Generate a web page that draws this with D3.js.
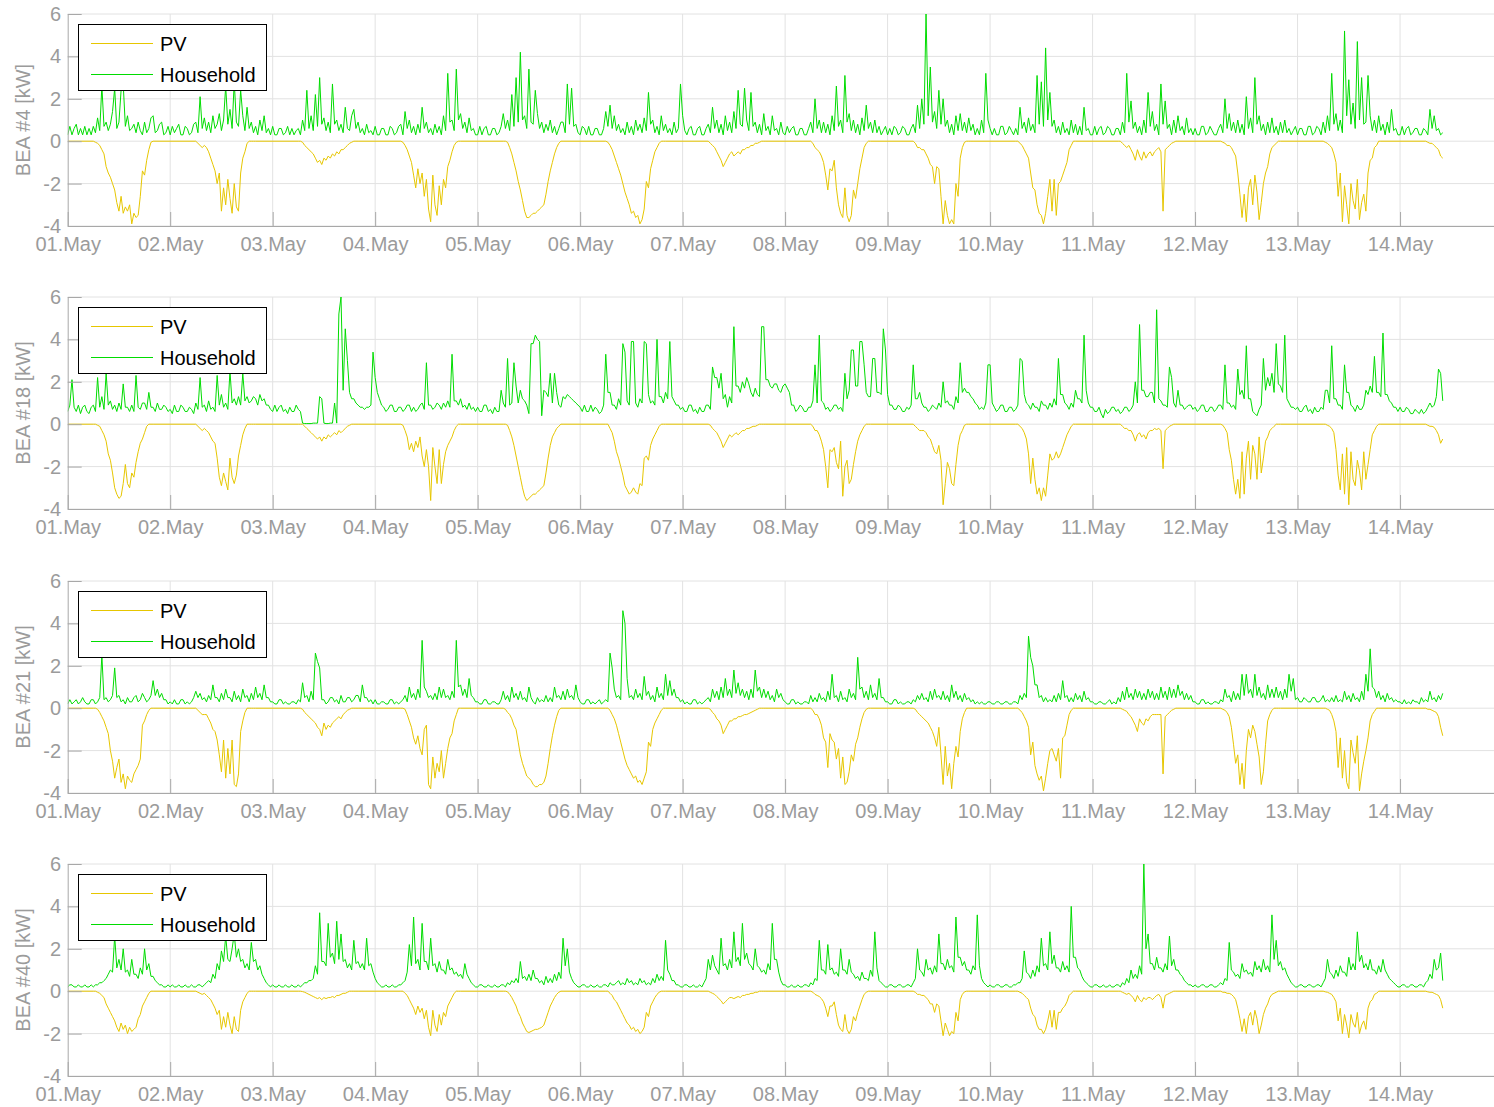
<!DOCTYPE html>
<html><head><meta charset="utf-8">
<script src="https://cdn.jsdelivr.net/npm/d3@7"></script>
<style>
body{margin:0;background:#fff}
svg text{font-family:"Liberation Sans",Arial,Helvetica,sans-serif}
</style>
</head><body>
<svg id="chart" width="1494" height="1107"></svg>
<script>
// ---------- tick labels / names ----------
const dayLabels = ["01.May","02.May","03.May","04.May","05.May","06.May","07.May","08.May","09.May","10.May","11.May","12.May","13.May","14.May"];
const yTicks = [-4,-2,0,2,4,6];
const panelLabels = ["BEA #4 [kW]","BEA #18 [kW]","BEA #21 [kW]","BEA #40 [kW]"];
const seriesNames = ["PV","Household"];
// Household: half-hourly from 01.May 00:00; PV: half-hourly 06:00-20:00 each day (night = 0)
const hhStepHours = 0.5;
const pvFirstHour = 6, pvStepHours = 0.5;

// ---------- BEA #4 ----------
const hh4 = [
0.3,0.7,0.3,0.6,0.8,0.3,0.6,0.3,0.7,0.3,0.6,0.3,0.7,0.4,1.1,0.5,2.6,0.7,0.9,0.5,0.8,1.4,2.5,0.6,0.9,2.4,2.7,0.7,1.2,0.5,0.6,0.8,0.4,0.9,0.5,0.3,0.9,0.4,0.6,1.1,1.2,0.4,0.5,0.8,0.9,0.3,0.4,0.7,
0.3,0.7,0.4,0.6,0.8,0.3,0.3,0.7,0.6,0.3,0.4,0.8,0.9,0.4,2.1,0.6,1.1,0.5,0.9,0.4,1.2,0.6,0.8,1.3,0.5,1.0,2.6,0.8,1.5,0.6,2.8,0.9,0.7,2.4,1.2,0.5,1.6,0.6,0.9,0.4,0.7,0.3,1.0,0.5,1.2,0.4,0.6,0.3,
0.7,0.3,0.3,0.6,0.6,0.3,0.4,0.7,0.3,0.6,0.3,0.5,0.6,0.3,1.0,0.5,2.4,0.6,1.2,0.5,2.2,0.7,3.0,0.8,1.1,0.5,0.9,0.4,2.7,0.8,1.0,0.5,0.8,0.4,1.6,0.6,0.5,1.2,1.5,0.6,0.9,0.4,0.6,0.3,0.8,0.4,0.5,0.3,
0.7,0.3,0.3,0.6,0.6,0.3,0.3,0.7,0.6,0.3,0.4,0.7,0.8,0.3,1.4,0.6,1.0,0.4,0.7,0.3,0.8,0.4,1.6,0.6,0.9,0.4,0.6,0.3,0.8,0.4,0.7,0.3,1.2,0.5,3.2,0.9,1.0,0.5,3.4,1.0,1.3,0.6,0.9,0.4,1.1,0.5,0.6,0.3,
0.3,0.7,0.3,0.6,0.7,0.3,0.3,0.6,0.6,0.3,0.4,0.7,1.3,0.6,1.0,0.5,2.2,0.7,3.0,0.9,4.2,1.0,1.2,0.6,3.4,0.9,0.8,2.4,1.3,0.6,0.9,0.4,0.8,0.5,1.0,0.4,0.7,0.3,0.6,0.9,0.9,0.4,2.7,0.8,2.5,0.7,0.8,0.4,
0.3,0.7,0.6,0.3,0.7,0.3,0.3,0.6,0.6,0.3,0.3,0.6,1.4,0.7,1.7,0.6,1.2,0.5,0.8,0.4,0.6,0.3,0.9,0.4,0.7,0.3,1.0,0.5,0.8,0.4,1.1,0.5,2.3,0.8,1.0,0.4,0.7,0.3,1.2,0.5,0.8,0.4,0.6,0.3,0.9,0.4,0.6,2.7,
1.2,0.5,0.3,0.6,0.7,0.3,0.3,0.6,0.7,0.3,0.3,0.6,0.8,0.4,1.6,0.6,1.0,0.4,0.8,0.3,1.2,0.5,0.9,0.4,1.4,0.6,2.4,0.8,0.7,2.5,1.0,0.5,2.3,0.7,0.9,0.4,0.8,0.3,1.3,0.5,0.7,0.3,1.2,0.5,0.6,0.3,0.9,0.4,
0.3,0.7,0.4,0.6,0.7,0.3,0.3,0.6,0.6,0.3,0.3,0.6,0.9,0.4,2.0,0.6,1.0,0.4,0.9,0.4,0.8,0.3,1.2,0.5,2.6,0.7,1.0,0.4,3.1,0.9,1.3,0.5,1.0,0.4,0.8,0.3,1.1,0.5,1.7,0.6,0.9,0.4,1.0,0.4,0.7,0.3,0.5,0.7,
0.3,0.6,0.3,0.7,0.6,0.3,0.4,0.7,0.6,0.3,0.3,0.6,0.8,0.4,1.7,0.6,2.0,0.8,6.0,1.2,3.5,0.9,1.4,0.6,2.4,0.8,2.0,0.7,1.0,0.4,0.8,0.3,1.2,0.5,1.3,0.5,0.9,0.4,1.1,0.5,0.8,0.3,0.6,0.3,1.0,0.4,3.2,1.0,
0.6,0.3,0.6,0.3,0.3,0.7,0.7,0.3,0.4,0.7,0.5,0.3,0.6,0.3,1.6,0.6,0.9,0.4,1.1,0.5,0.8,0.4,3.1,0.8,2.8,0.7,4.4,1.0,2.3,0.7,1.0,0.4,0.7,0.3,0.9,0.4,0.6,0.3,1.0,0.4,0.8,0.3,0.7,0.3,1.6,0.5,0.6,0.3,
0.3,0.7,0.3,0.6,0.7,0.3,0.4,0.7,0.6,0.3,0.3,0.6,0.6,0.3,0.9,0.4,3.2,0.9,1.9,0.6,0.9,0.4,0.7,0.3,1.0,0.4,2.3,0.7,1.4,0.5,0.8,0.3,2.7,0.8,1.9,0.6,0.8,0.3,1.0,0.4,1.2,0.5,0.7,0.3,1.1,0.4,0.6,0.3,
0.6,0.3,0.3,0.7,0.7,0.3,0.4,0.7,0.5,0.3,0.3,0.6,0.8,0.4,2.0,0.6,1.3,0.5,0.9,0.4,1.0,0.4,0.8,0.3,2.1,0.6,1.1,0.4,3.0,0.8,1.2,0.5,0.8,0.3,0.9,0.4,1.1,0.4,0.7,0.3,0.9,0.4,1.0,0.4,0.6,0.3,0.5,0.7,
0.3,0.6,0.6,0.3,0.3,0.7,0.7,0.3,0.4,0.7,0.6,0.3,0.9,0.4,1.2,0.5,3.2,0.8,1.3,0.5,1.0,0.4,5.2,1.2,2.9,0.8,1.8,0.6,4.7,1.0,3.0,0.8,0.9,3.1,1.2,0.5,1.0,0.4,1.2,0.5,0.8,0.3,0.9,0.4,1.5,0.5,0.6,0.3,
0.3,0.7,0.3,0.6,0.7,0.3,0.4,0.6,0.6,0.3,0.3,0.6,0.5,0.3,1.5,0.6,1.2,0.5,0.6,0.3,0.4];
const pv4 = [
[0,-0.05,-0.1,-0.2,-0.4,-0.6,-1.2,-1.5,-1.7,-2.0,-2.3,-2.9,-3.3,-2.6,-3.4,-3.1,-3.3,-3.0,-3.9,-3.4,-3.6,-3.5,-2.6,-1.4,-1.6,-0.9,-0.4,-0.05,0],
[0,-0.1,-0.2,-0.3,-0.2,-0.3,-0.5,-0.8,-1.1,-1.4,-2.0,-1.5,-3.3,-2.2,-3.0,-1.8,-2.7,-3.4,-2.0,-3.1,-3.3,-1.5,-0.8,-0.5,-0.1,0,0,0,0],
[0,0,-0.05,-0.2,-0.3,-0.4,-0.5,-0.6,-0.8,-1.0,-0.9,-1.1,-0.8,-0.9,-0.7,-0.8,-0.6,-0.7,-0.5,-0.6,-0.4,-0.4,-0.3,-0.2,-0.1,-0.05,0,0,0],
[0,-0.05,-0.2,-0.4,-0.7,-1.0,-1.6,-2.2,-1.3,-2.0,-1.5,-2.6,-1.8,-3.2,-3.8,-1.6,-3.0,-3.5,-2.1,-3.0,-1.8,-2.2,-1.2,-0.9,-0.5,-0.2,-0.05,0,0],
[0,0,-0.05,-0.3,-0.6,-1.0,-1.4,-1.9,-2.3,-2.8,-3.3,-3.6,-3.6,-3.5,-3.4,-3.4,-3.3,-3.2,-3.1,-3.0,-2.5,-1.9,-1.4,-1.0,-0.6,-0.3,-0.1,0,0],
[0,-0.05,-0.2,-0.4,-0.7,-1.0,-1.3,-1.6,-2.0,-2.4,-2.7,-3.0,-3.4,-3.3,-3.6,-3.5,-3.9,-3.7,-3.2,-1.9,-2.2,-1.3,-0.9,-0.5,-0.3,-0.1,0,0,0],
[0,-0.1,-0.2,-0.3,-0.5,-0.7,-0.9,-1.2,-1.0,-0.8,-0.6,-0.5,-0.7,-0.6,-0.5,-0.6,-0.4,-0.4,-0.3,-0.3,-0.2,-0.2,-0.1,-0.1,-0.05,0,0,0,0],
[0,-0.1,-0.3,-0.4,-0.5,-0.7,-1.0,-1.6,-2.3,-1.3,-1.4,-0.9,-2.2,-3.0,-3.4,-3.6,-2.2,-3.5,-3.8,-3.5,-2.3,-2.7,-2.0,-1.3,-0.8,-0.3,-0.1,0,0],
[0,-0.1,-0.3,-0.3,-0.4,-0.4,-0.6,-0.8,-1.1,-1.2,-2.0,-1.2,-1.3,-2.6,-3.9,-2.8,-3.5,-3.9,-3.7,-3.9,-2.0,-2.6,-0.8,-0.3,-0.05,0,0,0,0],
[0,0,-0.1,-0.2,-0.4,-0.6,-0.8,-1.5,-2.2,-2.3,-3.0,-3.4,-3.5,-3.9,-3.4,-2.6,-1.8,-3.3,-1.8,-3.5,-2.0,-1.9,-1.6,-1.3,-1.0,-0.4,-0.2,0,0],
[0,0,-0.1,-0.2,-0.3,-0.2,-0.4,-0.6,-0.9,-0.4,-0.7,-0.9,-0.5,-0.8,-0.6,-0.5,-0.7,-0.5,-0.4,-0.3,-0.5,-3.3,-0.4,-0.3,-0.2,-0.1,-0.05,0,0],
[0,-0.05,-0.1,-0.2,-0.2,-0.3,-0.5,-0.7,-1.5,-2.5,-3.6,-2.5,-3.8,-2.2,-1.8,-3.0,-1.6,-2.4,-3.7,-2.9,-2.0,-1.5,-1.2,-0.6,-0.3,-0.2,-0.1,0,0],
[0,-0.05,-0.1,-0.2,-0.3,-0.6,-1.0,-2.6,-1.5,-3.8,-2.1,-3.0,-3.9,-2.0,-2.8,-3.2,-1.8,-3.7,-2.9,-2.5,-3.3,-1.5,-0.9,-0.8,-0.3,-0.2,0,0,0],
[0,-0.05,-0.1,-0.1,-0.2,-0.3,-0.4,-0.7,-0.8]];

// ---------- BEA #18 ----------
const hh18 = [
0.6,0.9,2.1,0.8,0.6,0.9,0.5,0.8,0.9,0.6,0.5,0.8,0.9,0.6,2.2,0.8,1.3,0.7,2.4,0.9,1.1,0.7,0.9,0.6,1.0,0.7,1.9,0.8,0.8,0.6,0.9,0.6,2.3,0.8,0.7,1.0,1.0,0.7,1.5,0.8,0.8,0.6,1.0,0.7,0.7,0.9,0.8,0.6,
0.7,0.5,0.9,0.6,0.6,0.9,0.8,0.6,0.6,0.8,0.7,0.5,1.0,0.7,2.2,0.8,0.9,0.6,1.1,0.7,0.8,0.6,2.3,0.9,1.4,0.8,1.0,0.7,2.5,1.0,1.2,0.9,1.3,0.9,2.4,1.1,1.3,1.0,1.1,1.3,1.2,0.9,1.4,1.1,1.2,0.9,0.9,0.7,
0.6,0.9,0.6,0.8,0.9,0.6,0.7,0.5,0.8,0.6,0.6,0.9,0.7,0.6,0.05,0.03,0.03,0.03,0.03,0.05,0.05,0.05,1.3,1.2,0.05,0.03,0.03,0.05,0.05,1.0,0.05,5.2,6.0,1.6,4.5,3.0,1.5,1.2,1.2,1.0,0.9,0.8,0.8,0.7,0.8,0.8,0.9,3.4,
2.2,1.5,1.2,0.9,0.8,0.6,0.7,0.9,0.9,0.6,0.6,0.8,0.8,0.6,0.7,0.9,0.9,0.6,0.8,0.6,0.7,0.9,1.0,0.7,2.9,0.9,0.9,0.7,0.8,1.0,0.9,0.7,1.0,0.8,1.1,0.8,3.3,1.1,1.1,0.9,1.2,0.8,0.9,0.7,1.0,0.7,0.8,0.6,
0.8,0.6,0.6,0.9,0.9,0.6,0.7,0.5,0.8,0.6,0.6,1.6,1.0,0.8,3.1,0.9,1.0,2.9,1.8,1.0,1.6,1.2,1.1,0.9,0.5,3.8,3.8,4.2,4.0,3.9,0.4,1.6,1.5,1.3,2.4,1.0,2.4,1.5,0.9,0.8,1.3,1.2,1.4,1.3,1.2,1.1,1.0,0.9,
0.8,0.6,0.9,0.6,0.6,0.9,0.6,0.8,0.7,0.5,0.6,0.9,3.3,1.5,1.5,0.9,0.9,0.7,1.2,0.9,3.8,3.4,1.1,0.9,3.9,3.9,1.0,0.8,1.2,1.0,3.9,3.8,1.4,1.0,1.1,0.9,4.0,1.3,1.3,1.0,1.5,1.2,3.9,1.3,1.1,0.9,0.9,0.7,
0.8,0.6,0.6,0.9,0.9,0.6,0.7,0.5,0.8,0.6,0.6,0.9,0.9,0.7,2.7,2.2,2.2,1.7,2.4,1.2,1.4,0.8,1.3,1.0,4.6,1.8,1.8,1.5,2.0,1.7,2.2,1.9,1.5,1.3,1.7,1.4,1.3,4.6,4.6,2.1,2.1,1.8,1.7,1.9,1.9,1.6,1.5,1.8,
1.9,1.7,1.5,0.9,0.9,0.6,0.7,0.9,0.8,0.6,0.6,0.8,0.8,1.1,2.8,1.0,4.2,1.1,1.0,0.7,0.8,0.6,0.7,0.9,0.9,0.7,0.8,0.6,2.4,1.2,1.6,3.5,3.5,1.8,1.8,3.9,3.9,2.8,1.5,1.3,1.3,3.1,3.1,1.5,1.5,1.4,4.5,3.5,
1.4,0.9,0.9,0.7,0.7,0.9,0.8,0.6,0.6,0.8,0.7,0.9,2.8,1.2,1.2,1.5,1.0,0.8,0.8,0.6,0.7,0.9,0.8,0.7,1.0,0.8,2.0,1.0,1.1,0.9,0.9,0.7,1.3,1.0,2.9,1.5,1.7,1.5,1.5,1.3,1.2,1.0,0.9,0.7,0.8,0.7,1.0,2.8,
2.8,1.0,0.8,0.6,0.7,0.9,0.9,0.6,0.6,0.8,0.8,0.6,0.7,0.9,3.1,3.0,1.4,1.0,0.9,0.7,1.0,0.8,0.8,0.6,1.1,0.9,0.9,0.7,1.0,0.8,1.2,0.9,3.1,1.4,1.4,1.0,0.9,0.7,1.0,0.8,1.6,1.2,1.2,1.0,4.2,1.6,1.0,0.8,
0.8,0.6,0.6,0.8,0.5,0.3,0.7,0.5,0.6,0.8,0.8,0.6,0.7,0.5,0.6,0.8,0.8,0.6,0.7,0.9,2.0,1.0,4.7,1.6,1.6,1.3,1.3,1.5,1.5,1.0,5.4,1.2,1.1,0.9,0.9,0.8,2.7,2.2,1.0,0.8,1.6,0.9,0.9,0.7,0.8,0.9,0.9,0.7,
0.8,0.6,0.7,0.9,0.9,0.6,0.6,0.8,0.8,0.6,0.7,0.9,0.9,0.7,2.8,1.0,1.0,0.8,0.9,0.7,2.6,1.4,1.6,1.2,3.7,1.2,1.2,0.6,0.5,0.4,0.7,0.9,3.1,1.6,2.2,1.8,2.4,1.5,3.8,1.9,1.8,1.5,4.2,1.2,1.0,0.8,0.8,0.7,
0.8,0.6,0.6,0.8,0.9,0.6,0.7,0.5,0.8,0.6,0.6,0.8,0.7,1.6,1.6,1.0,3.7,1.2,1.2,0.9,0.9,0.7,2.8,1.5,1.5,0.9,0.8,0.6,0.9,0.7,0.7,0.9,1.6,1.4,1.8,1.5,3.2,1.5,1.5,1.3,4.3,1.4,1.4,1.1,1.0,0.8,0.8,0.6,
0.8,0.6,0.6,0.8,0.7,0.5,0.5,0.7,0.6,0.5,0.7,0.5,0.6,0.8,1.0,0.8,0.9,1.3,2.6,2.4,1.1];
const pv18 = [
[0,0,-0.05,-0.1,-0.3,-0.5,-0.8,-1.4,-1.7,-2.3,-3.0,-3.3,-3.5,-3.4,-2.8,-1.9,-2.8,-3.0,-2.3,-2.5,-1.8,-1.3,-0.9,-0.7,-0.4,-0.1,0,0,0],
[0,-0.1,-0.2,-0.3,-0.2,-0.3,-0.4,-0.6,-0.8,-0.9,-1.6,-2.5,-2.9,-2.3,-2.7,-3.1,-1.6,-2.5,-2.8,-2.4,-1.5,-1.0,-0.5,-0.2,0,0,0,0,0],
[0,0,0,-0.1,-0.2,-0.3,-0.4,-0.5,-0.6,-0.7,-0.6,-0.8,-0.6,-0.7,-0.5,-0.6,-0.5,-0.4,-0.5,-0.3,-0.4,-0.3,-0.2,-0.1,-0.05,0,0,0,0],
[0,-0.05,-0.3,-0.6,-1.2,-0.9,-1.3,-0.8,-1.1,-0.6,-1.5,-2.0,-1.2,-2.0,-3.6,-1.1,-2.0,-2.8,-1.2,-2.8,-1.9,-1.3,-1.0,-0.8,-0.6,-0.3,-0.1,0,0],
[0,0,-0.05,-0.3,-0.6,-1.0,-1.5,-2.0,-2.5,-3.0,-3.4,-3.6,-3.5,-3.4,-3.3,-3.3,-3.2,-3.1,-3.0,-2.9,-2.3,-1.6,-1.0,-0.6,-0.4,-0.2,-0.1,0,0],
[0,0,-0.2,-0.4,-0.8,-1.3,-1.6,-2.0,-2.4,-2.9,-3.1,-3.3,-3.2,-3.0,-3.2,-3.3,-2.8,-2.9,-1.6,-1.5,-1.7,-1.0,-0.7,-0.5,-0.3,-0.1,0,0,0],
[0,-0.05,-0.2,-0.3,-0.4,-0.6,-0.8,-1.1,-0.9,-0.7,-0.5,-0.6,-0.5,-0.4,-0.5,-0.4,-0.3,-0.3,-0.2,-0.2,-0.15,-0.1,-0.1,-0.05,0,0,0,0,0],
[0,-0.1,-0.3,-0.3,-0.5,-0.8,-1.2,-2.0,-3.0,-1.2,-1.3,-1.1,-1.8,-2.1,-0.8,-3.4,-2.0,-1.7,-2.8,-2.6,-1.9,-1.3,-0.8,-0.5,-0.3,-0.1,0,0,0],
[0,-0.1,-0.2,-0.3,-0.3,-0.3,-0.4,-0.6,-0.7,-1.0,-1.3,-1.4,-1.0,-1.7,-3.8,-2.8,-1.8,-2.1,-2.8,-2.9,-1.9,-1.0,-0.5,-0.3,-0.05,0,0,0,0],
[0,0,-0.1,-0.2,-0.4,-0.7,-1.4,-2.8,-1.6,-2.6,-3.3,-3.0,-3.6,-3.0,-3.4,-2.4,-1.4,-1.7,-1.6,-1.3,-1.6,-1.4,-1.1,-0.8,-0.5,-0.3,-0.1,0,0],
[0,0,-0.1,-0.2,-0.2,-0.3,-0.3,-0.5,-0.8,-0.5,-0.4,-0.6,-0.5,-0.7,-0.4,-0.3,-0.3,-0.2,-0.25,-0.2,-0.3,-2.1,-0.3,-0.2,-0.1,-0.05,0,0,0],
[0,-0.05,-0.2,-0.4,-1.2,-1.7,-2.6,-3.3,-2.6,-3.5,-1.3,-3.3,-1.6,-0.8,-2.6,-1.0,-1.4,-2.6,-0.6,-2.3,-1.6,-0.8,-0.6,-0.3,-0.2,-0.1,0,0,0],
[0,0,-0.05,-0.1,-0.2,-0.4,-1.2,-2.4,-3.1,-1.4,-3.3,-1.1,-3.8,-1.3,-2.6,-2.9,-1.7,-2.2,-3.1,-1.3,-2.6,-1.9,-1.2,-0.5,-0.3,-0.1,0,0,0],
[0,-0.05,-0.1,-0.1,-0.15,-0.3,-0.5,-0.9,-0.7]];

// ---------- BEA #21 ----------
const hh21 = [
0.2,0.4,0.2,0.3,0.4,0.2,0.3,0.5,0.3,0.2,0.2,0.4,0.4,0.2,0.3,0.5,2.5,0.4,0.5,0.3,0.4,0.6,1.9,0.5,0.6,0.3,0.4,0.2,0.5,0.3,0.3,0.5,0.6,0.3,0.4,0.7,0.5,0.3,0.4,0.6,1.3,0.6,0.9,0.5,0.7,0.4,0.4,0.2,
0.3,0.2,0.4,0.2,0.2,0.4,0.4,0.2,0.3,0.2,0.3,0.5,0.8,0.5,0.7,0.4,0.5,0.3,0.6,0.4,1.1,0.5,0.5,0.3,0.7,0.4,0.9,0.5,0.5,0.3,0.8,0.4,0.6,0.3,0.9,0.5,0.6,0.3,0.7,0.4,1.0,0.5,0.7,0.4,1.1,0.5,0.5,0.3,
0.3,0.2,0.2,0.4,0.4,0.2,0.3,0.2,0.2,0.3,0.3,0.2,0.4,0.3,1.2,0.5,0.6,0.3,0.8,0.4,2.6,2.2,1.9,0.4,0.4,0.2,0.3,0.5,0.5,0.3,0.4,0.2,0.6,0.3,0.3,0.5,0.5,0.3,0.4,0.6,0.6,0.3,1.1,0.5,0.5,0.3,0.4,0.2,
0.4,0.2,0.2,0.3,0.3,0.2,0.2,0.4,0.4,0.2,0.3,0.2,0.3,0.4,0.6,0.3,1.0,0.5,0.7,0.4,0.9,0.5,3.2,1.0,0.8,0.5,0.6,0.4,0.7,0.4,1.0,0.5,0.9,0.5,0.6,0.4,0.8,0.5,3.2,1.0,1.1,0.6,0.9,0.5,1.4,0.6,0.5,0.3,
0.3,0.2,0.2,0.4,0.4,0.2,0.2,0.3,0.3,0.2,0.2,0.4,0.8,0.4,0.6,0.3,1.0,0.5,0.7,0.4,0.8,0.4,0.5,0.3,1.0,0.5,0.3,0.2,0.5,0.3,0.4,0.3,0.6,0.3,0.5,0.3,1.0,0.5,0.6,0.4,0.8,0.4,0.9,0.5,0.6,0.4,1.1,0.5,
0.3,0.2,0.2,0.4,0.4,0.2,0.3,0.2,0.3,0.4,0.2,0.3,0.4,0.3,2.6,1.9,0.9,0.5,0.6,0.4,4.6,4.0,1.4,0.5,0.6,0.4,0.9,0.5,0.7,0.4,1.5,0.6,0.8,0.4,0.6,0.3,1.0,0.5,0.7,0.4,1.6,0.6,1.3,0.6,0.9,0.5,0.5,0.3,
0.4,0.2,0.3,0.2,0.2,0.4,0.4,0.2,0.3,0.2,0.3,0.4,0.5,0.3,0.9,0.5,0.8,0.4,1.0,0.5,1.4,0.6,0.9,0.5,1.8,0.7,1.2,0.6,0.9,0.5,0.8,0.4,0.9,0.5,1.8,0.8,1.0,0.5,0.9,0.5,0.8,0.4,0.6,0.3,0.9,0.5,0.7,0.4,
0.3,0.2,0.2,0.4,0.4,0.2,0.3,0.2,0.2,0.3,0.3,0.2,0.6,0.3,0.5,0.3,0.7,0.4,0.5,0.3,0.8,0.4,1.6,0.5,0.6,0.3,0.8,0.4,0.5,0.3,0.9,0.5,0.7,0.4,2.4,0.9,1.0,0.5,0.8,0.4,1.1,0.5,0.7,0.4,1.4,0.5,0.5,0.3,
0.3,0.2,0.2,0.4,0.4,0.2,0.3,0.2,0.2,0.3,0.3,0.2,0.4,0.3,0.6,0.4,0.7,0.4,0.5,0.3,0.8,0.4,0.9,0.5,0.6,0.4,0.8,0.4,0.6,0.3,1.1,0.5,0.8,0.4,0.6,0.3,0.7,0.4,0.5,0.3,0.4,0.2,0.3,0.2,0.3,0.2,0.2,0.3,
0.3,0.2,0.2,0.3,0.3,0.2,0.2,0.3,0.3,0.2,0.2,0.3,0.3,0.2,0.6,0.4,0.7,0.5,3.4,2.4,2.0,1.1,1.1,0.5,0.6,0.3,0.5,0.3,0.4,0.3,0.6,0.3,0.7,0.4,1.3,0.5,0.6,0.3,0.5,0.3,0.7,0.4,0.6,0.3,0.8,0.4,0.5,0.3,
0.3,0.2,0.2,0.3,0.3,0.2,0.2,0.3,0.4,0.2,0.3,0.2,0.5,0.3,0.8,0.4,1.0,0.5,0.7,0.4,0.9,0.5,0.8,0.4,0.7,0.4,0.9,0.5,0.8,0.4,0.7,0.4,1.0,0.5,0.8,0.4,1.0,0.5,0.9,0.5,1.1,0.6,0.8,0.4,0.7,0.4,0.6,0.3,
0.3,0.2,0.2,0.4,0.4,0.2,0.3,0.2,0.2,0.3,0.3,0.2,0.4,0.3,0.9,0.5,0.6,0.3,0.8,0.4,0.7,0.4,1.6,0.6,1.6,0.7,0.9,0.5,1.6,0.6,1.0,0.5,0.7,0.4,1.1,0.5,0.9,0.5,1.0,0.5,0.8,0.4,0.9,0.5,1.6,0.8,1.4,0.4,
0.5,0.3,0.3,0.5,0.4,0.3,0.3,0.5,0.5,0.3,0.3,0.4,0.6,0.3,0.4,0.3,0.5,0.3,0.6,0.3,0.4,0.3,0.8,0.4,0.6,0.3,0.7,0.4,0.5,0.3,0.8,0.4,1.6,0.8,2.8,1.0,0.9,0.5,0.8,0.4,0.6,0.3,0.7,0.4,0.5,0.3,0.4,0.3,
0.3,0.2,0.4,0.2,0.3,0.2,0.4,0.3,0.3,0.2,0.5,0.3,0.4,0.3,0.8,0.4,0.5,0.3,0.6,0.4,0.7];
const pv21 = [
[0,0,-0.05,-0.2,-0.4,-0.6,-0.9,-1.2,-2.0,-2.5,-3.3,-2.8,-2.4,-3.5,-3.1,-3.8,-3.2,-3.4,-3.5,-3.1,-2.9,-2.7,-2.4,-0.8,-0.6,-0.3,-0.1,0,0],
[0,-0.1,-0.2,-0.3,-0.3,-0.3,-0.5,-0.7,-1.0,-1.1,-1.5,-2.2,-3.0,-1.5,-3.3,-1.9,-3.1,-1.5,-3.6,-3.7,-3.1,-1.1,-0.6,-0.2,0,0,0,0,0],
[0,0,-0.05,-0.2,-0.3,-0.4,-0.5,-0.6,-0.7,-0.9,-1.0,-1.3,-0.7,-1.0,-0.8,-0.9,-0.7,-0.6,-0.5,-0.4,-0.5,-0.3,-0.2,-0.1,-0.05,0,0,0,0],
[0,0,-0.05,-0.3,-0.6,-0.9,-1.4,-1.7,-1.3,-1.9,-2.2,-1.0,-0.8,-3.6,-3.8,-2.3,-3.3,-2.6,-3.0,-2.0,-3.3,-2.6,-1.9,-1.4,-1.2,-0.6,-0.3,0,0],
[0,-0.05,-0.2,-0.3,-0.5,-0.8,-1.0,-1.6,-2.2,-2.6,-2.9,-3.2,-3.3,-3.4,-3.6,-3.7,-3.7,-3.6,-3.6,-3.5,-3.2,-2.6,-1.9,-1.3,-0.8,-0.4,-0.1,0,0],
[0,0,-0.1,-0.3,-0.5,-0.8,-1.2,-1.6,-2.0,-2.4,-2.7,-2.9,-3.1,-3.3,-3.2,-3.5,-3.4,-3.6,-3.3,-3.0,-1.6,-1.8,-1.0,-0.7,-0.5,-0.3,-0.1,0,0],
[0,-0.05,-0.2,-0.3,-0.5,-0.6,-0.8,-1.2,-1.0,-0.8,-0.6,-0.6,-0.5,-0.5,-0.4,-0.4,-0.35,-0.3,-0.3,-0.25,-0.2,-0.15,-0.1,-0.05,0,0,0,0,0],
[0,-0.1,-0.3,-0.3,-0.5,-0.8,-1.4,-1.6,-2.8,-1.2,-1.5,-1.6,-2.4,-1.9,-3.3,-2.3,-3.6,-3.5,-3.0,-2.2,-2.5,-1.7,-1.4,-0.9,-0.5,-0.2,-0.05,0,0],
[0,-0.05,-0.2,-0.3,-0.4,-0.5,-0.6,-0.7,-0.9,-1.1,-1.4,-1.8,-0.9,-2.2,-3.6,-1.8,-3.2,-2.6,-3.8,-2.6,-1.8,-2.3,-1.1,-0.5,-0.2,0,0,0,0],
[0,0,-0.1,-0.2,-0.4,-0.6,-0.9,-2.2,-1.6,-2.7,-3.1,-3.4,-3.2,-3.9,-3.3,-2.6,-2.0,-1.9,-2.2,-2.5,-1.9,-3.3,-1.4,-1.3,-0.8,-0.3,-0.1,0,0],
[0,0,-0.05,-0.1,-0.15,-0.3,-0.4,-0.6,-0.8,-1.1,-0.5,-0.7,-0.8,-0.5,-0.6,-0.4,-0.3,-0.3,-0.3,-0.3,-0.3,-3.1,-0.4,-0.3,-0.2,-0.1,-0.05,0,0],
[0,-0.05,-0.1,-0.2,-0.4,-0.9,-1.7,-2.6,-2.2,-3.6,-2.6,-3.8,-2.0,-1.0,-1.4,-0.8,-1.1,-1.7,-2.3,-3.6,-3.0,-1.7,-0.6,-0.3,-0.1,0,0,0,0],
[0,0,-0.05,-0.1,-0.3,-0.6,-1.1,-2.8,-1.4,-3.3,-2.0,-3.5,-3.8,-1.5,-2.1,-2.6,-1.3,-3.9,-3.1,-2.5,-2.0,-1.4,-0.6,-0.3,-0.15,0,0,0,0],
[0,-0.05,-0.05,-0.1,-0.15,-0.2,-0.4,-0.9,-1.3]];

// ---------- BEA #40 ----------
const hh40 = [
0.2,0.3,0.3,0.2,0.2,0.3,0.2,0.2,0.3,0.2,0.2,0.3,0.2,0.3,0.3,0.4,0.4,0.5,0.6,0.8,1.0,0.9,2.6,1.1,1.5,1.0,2.0,0.9,1.0,0.7,1.5,0.8,0.8,0.6,1.1,0.8,2.0,1.0,1.3,0.7,0.7,0.5,0.4,0.3,0.3,0.2,0.2,0.3,
0.2,0.3,0.2,0.2,0.3,0.2,0.2,0.3,0.2,0.2,0.3,0.2,0.2,0.3,0.3,0.2,0.3,0.4,0.5,0.4,0.8,0.6,1.3,1.0,1.9,1.4,2.6,1.5,1.4,2.0,2.7,1.6,2.0,1.4,1.5,1.1,1.3,1.0,2.3,1.4,1.5,1.0,1.2,0.8,0.6,0.4,0.3,0.2,
0.3,0.2,0.2,0.3,0.2,0.2,0.3,0.2,0.2,0.3,0.2,0.2,0.3,0.2,0.3,0.4,0.4,0.5,0.5,0.6,1.2,0.8,3.7,1.4,1.4,1.2,3.2,1.6,1.8,1.3,3.3,1.5,2.7,1.4,1.5,1.1,1.3,1.0,2.4,1.3,1.4,1.1,1.3,1.0,2.5,1.2,1.3,0.9,
0.6,0.4,0.3,0.2,0.2,0.3,0.2,0.2,0.3,0.2,0.2,0.3,0.3,0.4,0.5,0.9,2.2,1.2,3.5,1.3,1.5,1.0,3.2,1.4,1.4,1.0,2.5,1.2,1.3,0.9,1.4,1.0,1.0,0.8,1.5,1.0,1.1,0.8,0.9,0.7,0.8,0.6,1.3,0.8,0.6,0.4,0.3,0.2,
0.2,0.3,0.3,0.2,0.2,0.3,0.2,0.2,0.3,0.2,0.2,0.3,0.3,0.2,0.4,0.3,0.5,0.4,0.6,0.4,1.4,0.6,0.7,0.5,0.8,0.5,1.0,0.6,0.6,0.4,0.5,0.3,0.7,0.4,0.6,0.4,0.8,0.5,0.9,0.6,2.5,1.2,2.0,0.9,0.6,0.4,0.3,0.2,
0.2,0.3,0.3,0.2,0.2,0.3,0.2,0.2,0.3,0.2,0.2,0.3,0.3,0.2,0.4,0.3,0.3,0.4,0.5,0.3,0.4,0.3,0.6,0.4,0.5,0.3,0.4,0.3,0.6,0.4,0.5,0.3,0.4,0.3,0.6,0.4,0.8,0.5,0.7,0.5,2.4,1.0,0.8,0.5,0.5,0.3,0.3,0.2,
0.2,0.3,0.3,0.2,0.2,0.3,0.2,0.2,0.3,0.2,0.4,0.6,1.5,1.0,1.7,1.2,1.0,0.8,2.5,1.2,1.3,1.0,1.5,1.1,2.8,1.4,1.6,1.2,3.2,1.5,1.8,1.3,1.2,1.0,2.0,1.2,1.1,0.9,1.0,0.8,1.3,1.0,3.2,1.5,1.5,0.9,0.5,0.3,
0.3,0.2,0.2,0.3,0.2,0.2,0.3,0.2,0.2,0.3,0.3,0.2,0.4,0.3,0.6,0.5,2.4,1.0,1.0,0.8,2.2,1.0,1.1,0.8,0.9,0.7,2.0,1.0,1.0,0.8,1.5,0.9,0.8,0.6,0.7,0.5,0.9,0.6,0.6,0.5,1.0,0.7,2.8,1.1,0.5,0.4,0.3,0.2,
0.2,0.3,0.3,0.2,0.2,0.3,0.3,0.2,0.2,0.3,0.3,0.2,0.4,0.6,2.0,1.0,0.9,0.7,1.5,1.0,1.1,0.8,1.2,0.9,2.7,1.3,1.3,1.0,1.5,1.1,1.2,0.9,3.5,1.6,1.6,1.2,1.4,1.0,1.0,0.8,1.2,1.0,3.6,1.2,0.6,0.4,0.3,0.2,
0.3,0.2,0.2,0.3,0.3,0.2,0.2,0.3,0.3,0.2,0.2,0.3,0.3,0.4,0.4,0.6,1.9,0.9,0.8,0.6,1.0,0.7,1.2,0.9,2.5,1.2,1.3,1.0,2.8,1.3,1.7,1.1,1.1,0.9,1.4,1.0,1.2,0.9,4.0,1.6,1.6,1.1,1.0,0.7,0.5,0.4,0.3,0.2,
0.2,0.3,0.3,0.2,0.2,0.3,0.2,0.2,0.3,0.2,0.2,0.3,0.3,0.2,0.4,0.3,0.6,0.4,1.0,0.6,0.8,0.6,1.2,0.8,6.0,2.0,2.7,1.3,1.3,1.0,1.6,1.1,1.1,0.9,1.3,1.0,2.6,1.2,1.5,1.0,1.0,0.8,0.7,0.5,0.4,0.3,0.3,0.2,
0.3,0.2,0.2,0.3,0.3,0.2,0.2,0.3,0.3,0.2,0.2,0.3,0.4,0.3,0.6,0.5,2.3,1.0,0.9,0.7,0.8,0.6,1.3,0.9,1.0,0.8,0.9,0.7,1.4,1.0,1.2,0.9,1.5,1.0,1.2,0.9,3.6,1.5,2.4,1.2,1.4,1.0,1.1,0.8,0.6,0.4,0.3,0.2,
0.2,0.3,0.3,0.2,0.2,0.3,0.3,0.2,0.2,0.3,0.3,0.2,0.4,0.6,1.5,0.9,0.8,0.6,1.0,0.7,1.2,0.9,0.9,0.7,1.6,1.0,1.3,1.0,2.8,1.4,1.7,1.1,1.3,1.0,1.5,1.0,1.0,0.8,1.2,0.9,1.5,1.0,0.8,0.6,0.5,0.4,0.3,0.2,
0.2,0.3,0.3,0.2,0.2,0.3,0.3,0.2,0.2,0.3,0.3,0.2,0.4,0.5,0.8,0.6,1.5,1.0,1.1,1.8,0.5];
const pv40 = [
[0,0,-0.05,-0.1,-0.2,-0.3,-0.6,-0.8,-1.0,-1.2,-1.4,-1.7,-1.9,-1.5,-1.8,-1.6,-2.0,-1.7,-1.9,-1.8,-1.7,-1.3,-1.1,-0.7,-0.5,-0.3,-0.1,0,0],
[0,-0.05,-0.1,-0.15,-0.1,-0.2,-0.3,-0.4,-0.6,-0.8,-1.1,-0.9,-1.8,-1.2,-1.7,-1.0,-1.6,-2.0,-1.2,-1.8,-1.9,-0.9,-0.5,-0.3,-0.1,0,0,0,0],
[0,0,-0.02,-0.05,-0.1,-0.15,-0.2,-0.25,-0.3,-0.35,-0.3,-0.4,-0.3,-0.35,-0.3,-0.3,-0.25,-0.3,-0.2,-0.2,-0.15,-0.1,-0.1,-0.05,0,0,0,0,0],
[0,0,-0.1,-0.2,-0.4,-0.6,-0.8,-1.1,-0.7,-1.0,-0.8,-1.3,-0.9,-1.7,-2.1,-0.9,-1.6,-1.9,-1.1,-1.6,-1.0,-1.2,-0.7,-0.5,-0.3,-0.1,0,0,0],
[0,0,-0.03,-0.15,-0.3,-0.5,-0.7,-1.0,-1.2,-1.5,-1.7,-1.9,-1.95,-1.9,-1.85,-1.8,-1.8,-1.75,-1.7,-1.6,-1.3,-1.0,-0.7,-0.5,-0.3,-0.15,-0.05,0,0],
[0,0,-0.1,-0.2,-0.4,-0.5,-0.7,-0.9,-1.1,-1.3,-1.5,-1.6,-1.8,-1.7,-1.9,-1.8,-2.0,-1.9,-1.7,-1.0,-1.2,-0.7,-0.5,-0.3,-0.15,-0.05,0,0,0],
[0,-0.05,-0.1,-0.15,-0.25,-0.35,-0.45,-0.6,-0.5,-0.4,-0.3,-0.3,-0.35,-0.3,-0.25,-0.3,-0.2,-0.2,-0.15,-0.15,-0.1,-0.1,-0.05,-0.05,0,0,0,0,0],
[0,-0.05,-0.15,-0.2,-0.25,-0.35,-0.5,-0.8,-1.2,-0.7,-0.7,-0.5,-1.1,-1.6,-1.8,-1.9,-1.1,-1.8,-2.0,-1.8,-1.2,-1.4,-1.0,-0.7,-0.4,-0.15,-0.05,0,0],
[0,-0.05,-0.15,-0.15,-0.2,-0.2,-0.3,-0.4,-0.6,-0.6,-1.0,-0.6,-0.7,-1.4,-2.1,-1.5,-1.8,-2.1,-1.9,-2.0,-1.0,-1.4,-0.4,-0.15,-0.03,0,0,0,0],
[0,0,-0.05,-0.1,-0.2,-0.3,-0.4,-0.8,-1.1,-1.2,-1.6,-1.8,-1.8,-2.0,-1.8,-1.4,-0.9,-1.7,-0.9,-1.8,-1.0,-1.0,-0.8,-0.7,-0.5,-0.2,-0.1,0,0],
[0,0,-0.05,-0.1,-0.15,-0.1,-0.2,-0.3,-0.5,-0.2,-0.4,-0.5,-0.3,-0.4,-0.3,-0.3,-0.4,-0.3,-0.2,-0.15,-0.3,-0.8,-0.2,-0.15,-0.1,-0.05,0,0,0],
[0,-0.05,-0.05,-0.1,-0.1,-0.15,-0.25,-0.4,-0.8,-1.3,-1.9,-1.3,-2.0,-1.2,-1.0,-1.6,-0.9,-1.3,-2.0,-1.6,-1.1,-0.8,-0.6,-0.3,-0.15,-0.1,-0.05,0,0],
[0,-0.03,-0.05,-0.1,-0.15,-0.3,-0.5,-1.4,-0.8,-2.0,-1.1,-1.6,-2.2,-1.1,-1.5,-1.7,-1.0,-2.0,-1.6,-1.4,-1.8,-0.8,-0.5,-0.4,-0.15,-0.1,0,0,0],
[0,-0.03,-0.05,-0.05,-0.1,-0.15,-0.2,-0.4,-0.8]];

// ---------- assemble ----------
const panels = [
  {label: panelLabels[0], hh: hh4,  pv: pv4},
  {label: panelLabels[1], hh: hh18, pv: pv18},
  {label: panelLabels[2], hh: hh21, pv: pv21},
  {label: panelLabels[3], hh: hh40, pv: pv40}
];
function pvPoints(days){
  const pts = [[0,0]];
  days.forEach((vals,d)=>vals.forEach((v,i)=>pts.push([d*24 + pvFirstHour + i*pvStepHours, v])));
  return pts;
}
function hhPoints(vals){ return vals.map((v,i)=>[i*hhStepHours, v]); }

// ---------- layout / style ----------
const L = 67.7, R = 1494;
const tops = [14, 297, 581, 864];
const PH = 212;
const COL_PV = "#e6c600", COL_HH = "#00dc00";
const TXT = "#9b9b9b", AX = "#a8a8a8", GRID = "#e2e2e2";
const FS = 20;

const svg = d3.select("#chart");
const x = d3.scaleLinear().domain([0, 334]).range([L, R]);
const dayTicks = dayLabels.map((_,i)=>i*24);

panels.forEach((p, k) => {
  const top = tops[k], bot = top + PH;
  const y = d3.scaleLinear().domain([-4, 6]).range([bot, top]);
  const g = svg.append("g");

  // grid
  g.append("g").selectAll("line").data(yTicks).join("line")
    .attr("x1", L).attr("x2", R).attr("y1", d=>y(d)).attr("y2", d=>y(d))
    .attr("stroke", GRID).attr("stroke-width", 1);
  g.append("g").selectAll("line").data(dayTicks.slice(1)).join("line")
    .attr("x1", d=>x(d)).attr("x2", d=>x(d)).attr("y1", top).attr("y2", bot)
    .attr("stroke", GRID).attr("stroke-width", 1);

  // clip
  const cid = "clip" + k;
  svg.append("clipPath").attr("id", cid).append("rect")
    .attr("x", L).attr("y", top - 1).attr("width", R - L).attr("height", PH + 2);

  const line = d3.line().x(d=>x(d[0])).y(d=>y(d[1]));
  const lg = g.append("g").attr("clip-path", `url(#${cid})`);
  lg.append("path").datum(pvPoints(p.pv)).attr("d", line)
    .attr("fill", "none").attr("stroke", COL_PV).attr("stroke-width", 1).attr("stroke-linejoin","round");
  lg.append("path").datum(hhPoints(p.hh)).attr("d", line)
    .attr("fill", "none").attr("stroke", COL_HH).attr("stroke-width", 1).attr("stroke-linejoin","round");

  // axes
  const xa = g.append("g").attr("transform", `translate(0,${bot})`)
    .call(d3.axisBottom(x).tickValues(dayTicks).tickFormat((d,i)=>dayLabels[i])
      .tickSizeInner(-14).tickSizeOuter(0).tickPadding(10.5));
  const ya = g.append("g").attr("transform", `translate(${L},0)`)
    .call(d3.axisLeft(y).tickValues(yTicks).tickFormat(d3.format("d"))
      .tickSizeInner(-14).tickSizeOuter(0).tickPadding(6.7));
  [xa, ya].forEach(a => {
    a.select(".domain").attr("stroke", AX);
    a.selectAll(".tick line").attr("stroke", AX);
    a.selectAll(".tick text").attr("fill", TXT).style("font-size", FS + "px")
      .style("font-family", '"Liberation Sans",Arial,sans-serif');
  });
  ya.selectAll(".tick text").text(d => d < 0 ? "-" + Math.abs(d) : d);

  // y label
  g.append("text").attr("transform", `translate(29.5,${top + PH/2}) rotate(-90)`)
    .attr("text-anchor", "middle").attr("fill", TXT).style("font-size", FS + "px")
    .text(p.label);

  // legend
  const lgd = g.append("g").attr("transform", `translate(78.5,${top + 10.5})`);
  lgd.append("rect").attr("width", 188).attr("height", 66)
    .attr("fill", "#fff").attr("stroke", "#000").attr("stroke-width", 1);
  [COL_PV, COL_HH].forEach((c, i) => {
    const yy = 19 + i * 31;
    lgd.append("line").attr("x1", 12.5).attr("x2", 74.5).attr("y1", yy).attr("y2", yy)
      .attr("stroke", c).attr("stroke-width", 1);
    lgd.append("text").attr("x", 81.5).attr("y", yy + 7.3).attr("fill", "#000")
      .style("font-size", FS + "px").text(seriesNames[i]);
  });
});
</script>
</body></html>
